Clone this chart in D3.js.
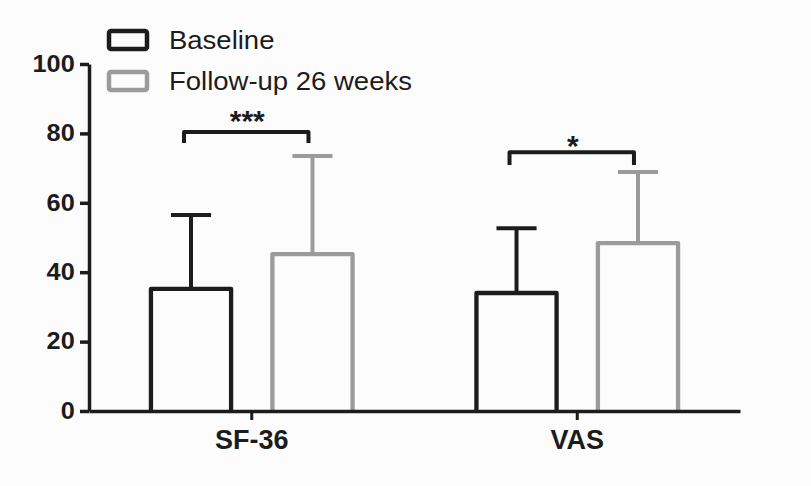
<!DOCTYPE html>
<html>
<head>
<meta charset="utf-8">
<script src="https://cdn.jsdelivr.net/npm/d3@7"></script>
<style>
  body { margin: 0; background: #fcfcfc; }
  svg { display: block; font-family: "Liberation Sans", Arial, sans-serif; }
</style>
</head>
<body>
<div id="chart"></div>
<script>
// data
var categories = ["SF-36", "VAS"];
var series = ["Baseline", "Follow-up 26 weeks"];
var means = [[35.2, 45.2], [34.0, 48.4]];   // per category: baseline, follow-up
var upperSD = [[56.5, 73.5], [52.7, 68.9]];
var yTicks = [0, 20, 40, 60, 80, 100];
var sigLabels = ["***", "*"];
var sigLevel = [80.4, 74.6];   // bracket height
var sigDrop = [77.2, 70.9];    // where the bracket legs end
var sigTextLevel = [80.7, 73.5]; // baseline of the star text

var W = 811, H = 486;
var colors = { "Baseline": "#1c1c1c", "Follow-up 26 weeks": "#9b9b9b" };

var svg = d3.select("#chart").append("svg")
    .attr("width", W)
    .attr("height", H);

var x0 = d3.scaleBand()
    .domain(categories)
    .range([89, 740]);

var x1 = d3.scaleBand()
    .domain(series)
    .range([0, x0.bandwidth()])
    .paddingInner(0.34)
    .paddingOuter(0.51);

var y = d3.scaleLinear()
    .domain([0, 100])
    .range([411, 64]);

// bars + error bars
categories.forEach(function(cat, ci) {
    var g = svg.append("g").attr("transform", "translate(" + x0(cat) + ",0)");
    series.forEach(function(s, si) {
        var bx = x1(s), bw = x1.bandwidth(), cx = bx + bw / 2;
        var c = colors[s];
        // stem of error bar
        g.append("line")
            .attr("x1", cx).attr("x2", cx)
            .attr("y1", y(means[ci][si])).attr("y2", y(upperSD[ci][si]))
            .attr("stroke", c).attr("stroke-width", 4);
        g.append("line")
            .attr("x1", cx - bw / 4).attr("x2", cx + bw / 4)
            .attr("y1", y(upperSD[ci][si])).attr("y2", y(upperSD[ci][si]))
            .attr("stroke", c).attr("stroke-width", 4);
        // open bar (no bottom edge)
        g.append("path")
            .attr("d", "M" + bx + "," + y(0) + "V" + y(means[ci][si]) + "H" + (bx + bw) + "V" + y(0))
            .attr("fill", "none")
            .attr("stroke", c)
            .attr("stroke-width", 4.3)
            .attr("stroke-linejoin", "round");
    });

    // significance bracket
    var xa = x1(series[0]) + x1.bandwidth() / 2 - 7;
    var xb = x1(series[1]) + x1.bandwidth() / 2 - 4;
    g.append("path")
        .attr("d", "M" + xa + "," + y(sigDrop[ci]) + "V" + y(sigLevel[ci]) + "H" + xb + "V" + y(sigDrop[ci]))
        .attr("fill", "none")
        .attr("stroke", "#1c1c1c")
        .attr("stroke-width", 4)
        .attr("stroke-linejoin", "round");
    g.append("text")
        .attr("x", (xa + xb) / 2 + 1)
        .attr("y", y(sigTextLevel[ci]))
        .attr("text-anchor", "middle")
        .style("font-size", "30px")
        .style("font-weight", "bold")
        .style("fill", "#1c1c1c")
        .text(sigLabels[ci]);
});

// y axis
var yAxis = svg.append("g")
    .attr("transform", "translate(89,0)")
    .call(d3.axisLeft(y).tickValues(yTicks).tickSize(9).tickSizeOuter(0).tickPadding(4));
yAxis.select(".domain").attr("stroke", "#1c1c1c").attr("stroke-width", 3.5);
yAxis.selectAll(".tick line").attr("stroke", "#1c1c1c").attr("stroke-width", 3.5);
yAxis.selectAll(".tick text")
    .attr("fill", "#1c1c1c")
    .style("font-size", "23px")
    .style("font-weight", "bold")
    .style("font-family", "'Liberation Sans', Arial, sans-serif")
    .attr("transform", "scale(1.1,1)");

// x axis
var xAxis = svg.append("g")
    .attr("transform", "translate(0,411)")
    .call(d3.axisBottom(x0).tickSize(9).tickSizeOuter(0).tickPadding(10));
xAxis.select(".domain").attr("stroke", "#1c1c1c").attr("stroke-width", 3.5);
xAxis.selectAll(".tick line").attr("stroke", "#1c1c1c").attr("stroke-width", 3);
xAxis.selectAll(".tick text")
    .attr("fill", "#1c1c1c")
    .style("font-size", "27px")
    .style("font-weight", "bold")
    .style("font-family", "'Liberation Sans', Arial, sans-serif");

// legend
var legend = svg.selectAll(".legend")
    .data(series)
    .enter()
    .append("g")
    .attr("transform", function(d, i) { return "translate(0," + (40 + i * 41) + ")"; });
legend.append("rect")
    .attr("x", 109).attr("y", -9)
    .attr("width", 38).attr("height", 18)
    .attr("rx", 2)
    .attr("fill", "none")
    .attr("stroke", function(d) { return colors[d]; })
    .attr("stroke-width", 4.5);
legend.append("text")
    .attr("transform", "translate(169,9) scale(1.1,1)")
    .style("font-size", "25px")
    .style("fill", "#1c1c1c")
    .text(function(d) { return d; });
</script>
</body>
</html>
